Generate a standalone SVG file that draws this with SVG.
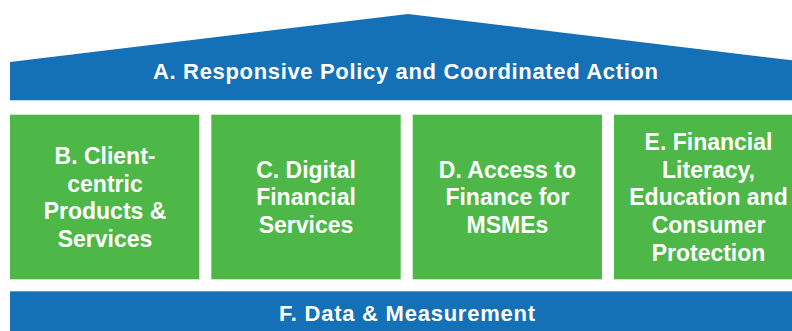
<svg xmlns="http://www.w3.org/2000/svg" width="792" height="331" viewBox="0 0 792 331">
<style>
.blue{fill:#1470B7;}
.green{fill:#4DB848;}
text{font-family:"Liberation Sans",Arial,sans-serif;font-weight:bold;fill:#ffffff;text-anchor:middle;}
.bar{font-size:22px;}
.box{font-size:23px;}
</style>
<rect width="792" height="331" fill="#ffffff"/>
<g id="roof">
<polygon class="blue" points="10,62 408,14 806,62 806,100.3 10,100.3"/>
<text class="bar" x="405.5" y="79" textLength="505" lengthAdjust="spacing">A. Responsive Policy and Coordinated Action</text>
</g>
<g id="nodeB">
<rect class="green" x="10" y="114.7" width="189.3" height="164.6"/>
<text class="box" x="105" y="164">B. Client-</text>
<text class="box" x="105" y="191.6">centric</text>
<text class="box" x="105" y="219.2">Products &amp;</text>
<text class="box" x="105" y="246.8">Services</text>
</g>
<g id="nodeC">
<rect class="green" x="211.3" y="114.7" width="189.4" height="164.6"/>
<text class="box" x="306" y="177.8">C. Digital</text>
<text class="box" x="306" y="205.4">Financial</text>
<text class="box" x="306" y="233">Services</text>
</g>
<g id="nodeD">
<rect class="green" x="412.7" y="114.7" width="189.3" height="164.6"/>
<text class="box" x="507.4" y="177.8">D. Access to</text>
<text class="box" x="507.4" y="205.4">Finance for</text>
<text class="box" x="507.4" y="233">MSMEs</text>
</g>
<g id="nodeE">
<rect class="green" x="614" y="114.7" width="189.3" height="164.6"/>
<text class="box" x="708.5" y="150.2">E. Financial</text>
<text class="box" x="708.5" y="177.8">Literacy,</text>
<text class="box" x="708.5" y="205.4">Education and</text>
<text class="box" x="708.5" y="233">Consumer</text>
<text class="box" x="708.5" y="260.6">Protection</text>
</g>
<g id="foundation">
<rect class="blue" x="10" y="291.3" width="796" height="45"/>
<text class="bar" x="407" y="321" textLength="256" lengthAdjust="spacing">F. Data &amp; Measurement</text>
</g>
<g id="connectors"/>
</svg>
